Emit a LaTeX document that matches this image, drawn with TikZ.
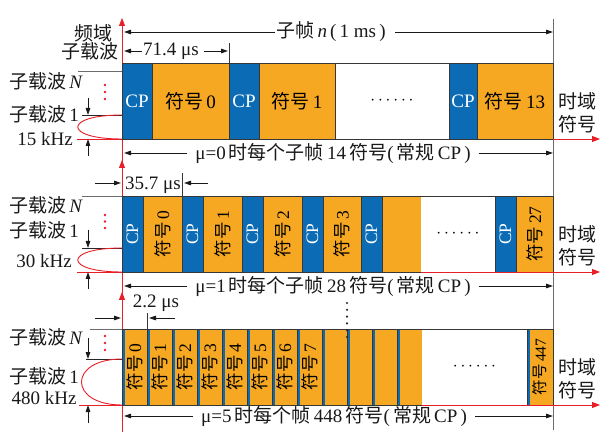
\documentclass[tikz,border=0pt]{standalone}
\usepackage{fontspec}
\usepackage{graphicx}
\setmainfont{Liberation Serif}
\newfontfamily\cjk{Noto Sans CJK SC}
\usetikzlibrary{arrows.meta}
\definecolor{cpblue}{RGB}{11,108,181}
\definecolor{symor}{RGB}{246,168,35}
\definecolor{axred}{RGB}{232,30,40}
\definecolor{edgec}{RGB}{55,55,55}
\newcommand\zh[1]{{\cjk #1}}
\newcommand\fsA{\fontsize{19pt}{23pt}\selectfont}
\newcommand\fsB{\fontsize{17.5pt}{20pt}\selectfont}
\newcommand\fsC{\fontsize{15.5pt}{18pt}\selectfont}
\begin{document}
\begin{tikzpicture}[x=1pt,y=-1pt,
 blk/.style={draw=edgec, line width=0.9pt, inner sep=0pt, outer sep=0pt, anchor=north west, minimum height=76pt, font=\fsA},
 cpb/.style={blk, fill=cpblue, text=white},
 symb/.style={blk, fill=symor},
 whb/.style={blk, fill=white},
 smallsym/.style={blk, fill=symor, minimum width=25pt, path picture={\fill[cpblue] (path picture bounding box.north west) rectangle ([xshift=2.8pt]path picture bounding box.south west);}},
 lbl/.style={font=\fsA, inner sep=1pt, text=black!90},
 dimarrow/.style={black!90, line width=0.8pt, -{Triangle[length=7pt,width=4.5pt]}},
 rax/.style={axred, line width=0.9pt, -{Triangle[length=8pt,width=6pt]}},
 rln/.style={axred, line width=0.9pt},
 gln/.style={gray!85!black, line width=0.9pt},
 bln/.style={black!85, line width=0.9pt},
 tick/.style={edgec, line width=0.8pt},
]
\useasboundingbox (0,0) rectangle (610,443);
\fill[white] (0,0) rectangle (610,443);

% right boundary line
\coordinate (rt) at (553,19);
\coordinate (rb) at (553,430);
\draw[gln] (rt) -- (rb);

% red frequency axes
\coordinate (v1b) at (122,165); \coordinate (v1t) at (122,18);
\coordinate (v2b) at (122,297); \coordinate (v2t) at (122,160);
\coordinate (v3b) at (122,432); \coordinate (v3t) at (122,292);
\draw[rax] (v1b) -- (v1t);
\draw[rax] (v2b) -- (v2t);
\draw[rax] (v3b) -- (v3t);

% ---------------- Row 1 ----------------
\node[cpb, minimum width=30pt] (a0) at (122,63) {CP};
\node[symb, minimum width=77pt] (a1) at (152,63) {\zh{符号}\,0};
\node[cpb, minimum width=30pt] (a2) at (229,63) {CP};
\node[symb, minimum width=76pt] (a3) at (259,63) {\zh{符号}\,1};
\node[whb, minimum width=114pt] (a4) at (335,63) {$\cdots\cdots$};
\node[cpb, minimum width=28pt] (a5) at (449,63) {CP};
\node[symb, minimum width=76pt] (a6) at (477,63) {\zh{符号}\,13};

% ---------------- Row 2 ----------------
\node[cpb, minimum width=21pt] (b0) at (122,196) {\rotatebox{90}{\fsB CP}};
\node[symb, minimum width=39pt] (b1) at (143,196) {\rotatebox{90}{\fsB\zh{符号}\,0}};
\node[cpb, minimum width=21pt] (b2) at (182,196) {\rotatebox{90}{\fsB CP}};
\node[symb, minimum width=39pt] (b3) at (203,196) {\rotatebox{90}{\fsB\zh{符号}\,1}};
\node[cpb, minimum width=21pt] (b4) at (242,196) {\rotatebox{90}{\fsB CP}};
\node[symb, minimum width=39pt] (b5) at (263,196) {\rotatebox{90}{\fsB\zh{符号}\,2}};
\node[cpb, minimum width=21pt] (b6) at (302,196) {\rotatebox{90}{\fsB CP}};
\node[symb, minimum width=38pt] (b7) at (323,196) {\rotatebox{90}{\fsB\zh{符号}\,3}};
\node[cpb, minimum width=21pt] (b8) at (361,196) {\rotatebox{90}{\fsB CP}};
\node[symb, minimum width=39pt] (b9) at (382,196) {};
\node[blk, draw=none, fill=white, minimum width=74pt] (b10) at (421,196) {$\cdots\cdots$};
\draw[tick, line width=0.9pt] (b10.north west) -- (b10.north east);
\node[cpb, minimum width=21pt] (b11) at (495,196) {\rotatebox{90}{\fsB CP}};
\node[symb, minimum width=37pt] (b12) at (516,196) {\rotatebox{90}{\fsB\zh{符号}\,27}};

% ---------------- Row 3 ----------------
\node[smallsym] (c0) at (122,329) {\rotatebox{90}{\fsB\zh{符号}\,0}};
\node[smallsym] (c1) at (147,329) {\rotatebox{90}{\fsB\zh{符号}\,1}};
\node[smallsym] (c2) at (172,329) {\rotatebox{90}{\fsB\zh{符号}\,2}};
\node[smallsym] (c3) at (197,329) {\rotatebox{90}{\fsB\zh{符号}\,3}};
\node[smallsym] (c4) at (222,329) {\rotatebox{90}{\fsB\zh{符号}\,4}};
\node[smallsym] (c5) at (247,329) {\rotatebox{90}{\fsB\zh{符号}\,5}};
\node[smallsym] (c6) at (272,329) {\rotatebox{90}{\fsB\zh{符号}\,6}};
\node[smallsym] (c7) at (297,329) {\rotatebox{90}{\fsB\zh{符号}\,7}};
\node[smallsym] (c8) at (322,329) {};
\node[smallsym] (c9) at (347,329) {};
\node[smallsym] (c10) at (372,329) {};
\node[smallsym] (c11) at (397,329) {};
\node[blk, draw=none, fill=white, minimum width=105pt] (c12) at (422,329) {$\cdots\cdots$};
\draw[tick, line width=0.9pt] (c12.north west) -- (c12.north east);
\node[smallsym, minimum width=26pt] (c13) at (527,329) {\rotatebox{90}{\fsC\zh{符号}\,447}};

% vertical dots in row 3
\foreach \yy in {303,309.8,316.6,323.4,330.2,337}{\fill[black!85] (347,\yy) circle (1.2pt);}

% red time axes
\coordinate (e1) at (600,139);
\coordinate (e2) at (600,272);
\coordinate (e3) at (600,405);
\draw[rax] (a6.south east) -- (e1);
\draw[rax] (b10.south west) -- (e2);
\draw[rax] (c12.south west) -- (e3);

% time-domain labels
\node[lbl, align=center] (td1) at (577,113) {\zh{时域}\\\zh{符号}};
\node[lbl, align=center] (td2) at (577,246) {\zh{时域}\\\zh{符号}};
\node[lbl, align=center] (td3) at (577,379) {\zh{时域}\\\zh{符号}};

% ---------------- top labels ----------------
\node[lbl, anchor=east] (fy) at (114,33) {\zh{频域}};
\node[lbl, anchor=east] (zz) at (120,51) {\zh{子载波}};

\node[lbl] (tn) at (331,32) {\zh{子帧}\,\textit{n}\,(\,1 ms\,)};
\coordinate (tnL) at (124,32); \coordinate (tnR) at (553,32);
\draw[dimarrow] (tn.west) -- (tnL);
\draw[dimarrow] ([xshift=8pt]tn.east) -- (tnR);

\node[lbl] (d1) at (171,51) {71.4 μs};
\coordinate (d1L) at (124,51); \coordinate (d1R) at (228,51);
\draw[dimarrow] (d1.west) -- (d1L);
\draw[dimarrow] ([xshift=4pt]d1.east) -- (d1R);
\draw[tick] (a2.north west) -- ++(0,-20);

% ---------------- left side, row 1 ----------------
\node[lbl] (n1) at (46,81) {\zh{子载波}\,\textit{N}};
\node[lbl] (o1) at (44,114) {\zh{子载波}\,1};
\node[lbl] (k1) at (45,139) {15 kHz};
\draw[gln] (78,71) -- (122,71);
\draw[bln] (82,115) -- (122,115);
\draw[rln] (77,139) -- (122,139);
\draw[rln] (122,115) .. controls (63,115) and (63,139) .. (122,139);
\coordinate (p1a) at (88,98); \coordinate (p1b) at (88,115);
\coordinate (p1c) at (88,156); \coordinate (p1d) at (88,139);
\draw[dimarrow] (p1a) -- (p1b);
\draw[dimarrow] (p1c) -- (p1d);
\foreach \yy in {85,92,99}{\fill[axred] (105,\yy) circle (1.3pt);}

\node[lbl] (m1) at (333,153) {μ=0\,\zh{时每个子帧}\,14\,\zh{符号}(\,\zh{常规}\,CP\,)};
\coordinate (m1L) at (124,153); \coordinate (m1R) at (553,153);
\draw[dimarrow] ([xshift=-7pt]m1.west) -- (m1L);
\draw[dimarrow] ([xshift=7pt]m1.east) -- (m1R);

% ---------------- left side, row 2 ----------------
\node[lbl] (d2) at (153,185) {35.7 μs};
\coordinate (d2a) at (95,183); \coordinate (d2b) at (121,183);
\coordinate (d2c) at (208,183); \coordinate (d2d) at (184,183);
\draw[dimarrow] (d2a) -- (d2b);
\draw[dimarrow] (d2c) -- (d2d);
\draw[tick] (b2.north west) -- ++(0,-23);

\node[lbl] (n2) at (46,205) {\zh{子载波}\,\textit{N}};
\node[lbl] (o2) at (44,230) {\zh{子载波}\,1};
\node[lbl] (k2) at (44,261) {30 kHz};
\draw[gln] (82,196) -- (122,196);
\draw[bln] (82,248) -- (122,248);
\draw[rln] (77,272) -- (122,272);
\draw[rln] (122,248) .. controls (63,248) and (63,272) .. (122,272);
\coordinate (p2a) at (88,230); \coordinate (p2b) at (88,248);
\coordinate (p2c) at (88,289); \coordinate (p2d) at (88,272);
\draw[dimarrow] (p2a) -- (p2b);
\draw[dimarrow] (p2c) -- (p2d);
\foreach \yy in {215,221.5,228}{\fill[axred] (105,\yy) circle (1.3pt);}

\node[lbl] (m2) at (333,286) {μ=1\,\zh{时每个子帧}\,28\,\zh{符号}(\,\zh{常规}\,CP\,)};
\coordinate (m2L) at (124,286); \coordinate (m2R) at (553,286);
\draw[dimarrow] ([xshift=-7pt]m2.west) -- (m2L);
\draw[dimarrow] ([xshift=7pt]m2.east) -- (m2R);

% ---------------- left side, row 3 ----------------
\node[lbl] (d3) at (156,303) {2.2 μs};
\coordinate (d3a) at (95,318); \coordinate (d3b) at (121,318);
\coordinate (d3c) at (175,318); \coordinate (d3d) at (149,318);
\draw[dimarrow] (d3a) -- (d3b);
\draw[dimarrow] (d3c) -- (d3d);
\draw[tick] (c1.north west) -- ++(0,-16);

\node[lbl] (n3) at (46,337) {\zh{子载波}\,\textit{N}};
\node[lbl] (o3) at (44,376) {\zh{子载波}\,1};
\node[lbl] (k3) at (44,398) {480 kHz};
\draw[gln] (90,329) -- (122,329);
\draw[bln] (86,359) -- (122,359);
\draw[rln] (79,405) -- (122,405);
\draw[rln] (122,359) .. controls (68,359) and (68,405) .. (122,405);
\coordinate (p3a) at (88,338); \coordinate (p3b) at (88,359);
\coordinate (p3c) at (88,423); \coordinate (p3d) at (88,405);
\draw[dimarrow] (p3a) -- (p3b);
\draw[dimarrow] (p3c) -- (p3d);
\foreach \yy in {336,343,350}{\fill[axred] (105,\yy) circle (1.3pt);}

\node[lbl] (m3) at (334,416) {μ=5\,\zh{时每个帧}\,448\,\zh{符号}(\,\zh{常规}\,CP\,)};
\coordinate (m3L) at (124,418); \coordinate (m3R) at (553,418);
\draw[dimarrow] ([xshift=-7pt]m3.west) -- (m3L |- m3.west);
\draw[dimarrow] ([xshift=7pt]m3.east) -- (m3R |- m3.east);
\end{tikzpicture}
\end{document}
